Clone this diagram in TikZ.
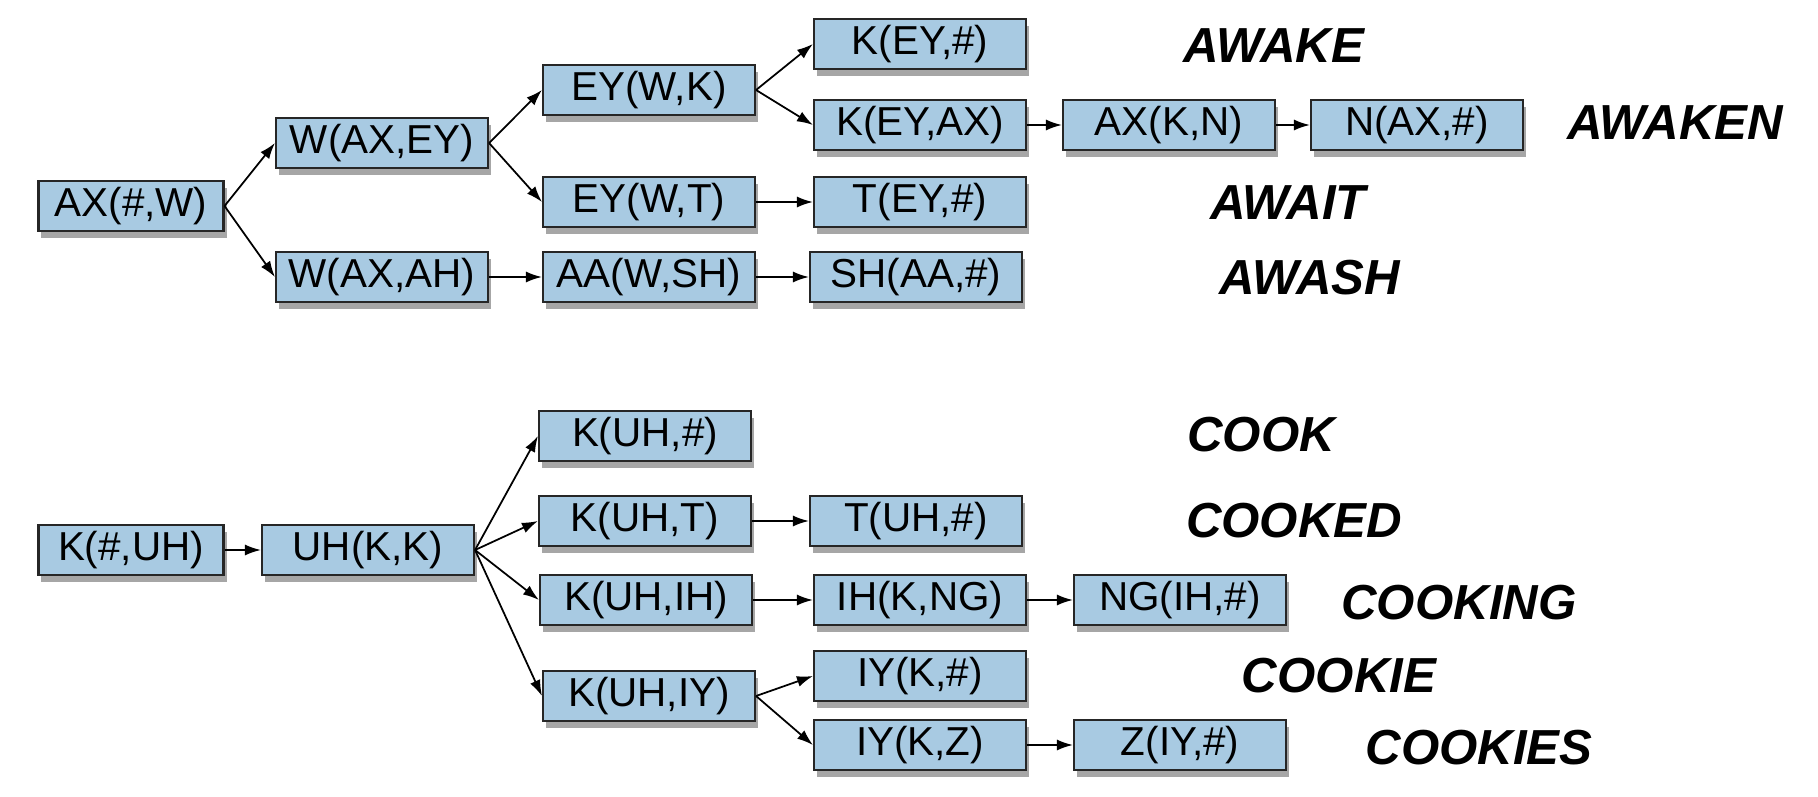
\documentclass[tikz,border=0pt]{standalone}
\usepackage{fontspec}
\setmainfont{Liberation Sans}
\usepackage{xcolor}
\usepackage{tikz}
\usetikzlibrary{arrows.meta, shadows}
\definecolor{boxblue}{RGB}{168,202,226}

\begin{document}
\begin{tikzpicture}[
    phone/.style={rectangle, draw=black!85, line width=0.6pt, fill=boxblue, minimum width=2.12cm, minimum height=0.5cm, inner sep=1pt, align=center, font=\fontsize{11.5}{13}\selectfont,
        drop shadow={shadow xshift=0.3mm, shadow yshift=-0.7mm, opacity=0.35, fill=black}},
    short/.style={phone, minimum width=1.85cm},
    word/.style={font=\fontsize{14}{16}\selectfont\bfseries\itshape},
    arrow/.style={-{Latex[length=1.6mm, width=1.1mm]}, line width=0.5pt}
]
    \useasboundingbox (0,0) rectangle (18.18,7.96);

    % AWAKE tree
    \node[short] (axhw) at (1.31, 5.90) {AX(\#,W)};
    \node[phone] (waxey) at (3.82, 6.53) {W(AX,EY)};
    \node[phone] (waxah) at (3.82, 5.19) {W(AX,AH)};
    \node[phone] (eywk) at (6.49, 7.06) {EY(W,K)};
    \node[phone] (eywt) at (6.49, 5.94) {EY(W,T)};
    \node[phone] (aawsh) at (6.49, 5.19) {AA(W,SH)};
    \node[phone] (keyh) at (9.20, 7.52) {K(EY,\#)};
    \node[phone] (keyax) at (9.20, 6.71) {K(EY,AX)};
    \node[phone] (teyh) at (9.20, 5.94) {T(EY,\#)};
    \node[phone] (shaah) at (9.16, 5.19) {SH(AA,\#)};
    \node[phone] (axkn) at (11.69, 6.71) {AX(K,N)};
    \node[phone] (naxh) at (14.17, 6.71) {N(AX,\#)};

    % AWAKE words
    \node[word] (awake) at (12.74, 7.50) {AWAKE};
    \node[word] (awaken) at (16.75, 6.73) {AWAKEN};
    \node[word] (await) at (12.88, 5.93) {AWAIT};
    \node[word] (awash) at (13.10, 5.18) {AWASH};

    % COOK tree
    \node[short] (khuh) at (1.31, 2.46) {K(\#,UH)};
    \node[phone] (uhkk) at (3.68, 2.46) {UH(K,K)};
    \node[phone] (kuhh) at (6.45, 3.60) {K(UH,\#)};
    \node[phone] (kuht) at (6.45, 2.75) {K(UH,T)};
    \node[phone] (kuhih) at (6.46, 1.96) {K(UH,IH)};
    \node[phone] (kuhiy) at (6.49, 1.00) {K(UH,IY)};
    \node[phone] (tuhh) at (9.16, 2.75) {T(UH,\#)};
    \node[phone] (ihkng) at (9.20, 1.96) {IH(K,NG)};
    \node[phone] (ngihh) at (11.80, 1.96) {NG(IH,\#)};
    \node[phone] (iykh) at (9.20, 1.20) {IY(K,\#)};
    \node[phone] (iykz) at (9.20, 0.51) {IY(K,Z)};
    \node[phone] (ziyh) at (11.80, 0.51) {Z(IY,\#)};

    % COOK words
    \node[word] (cook) at (12.61, 3.61) {COOK};
    \node[word] (cooked) at (12.94, 2.75) {COOKED};
    \node[word] (cooking) at (14.59, 1.93) {COOKING};
    \node[word] (cookie) at (13.39, 1.20) {COOKIE};
    \node[word] (cookies) at (14.79, 0.48) {COOKIES};

    % Arrows
    \draw[arrow] (axhw.east) -- (waxey.west);
    \draw[arrow] (axhw.east) -- (waxah.west);
    \draw[arrow] (waxey.east) -- (eywk.west);
    \draw[arrow] (waxey.east) -- (eywt.west);
    \draw[arrow] (eywk.east) -- (keyh.west);
    \draw[arrow] (eywk.east) -- (keyax.west);
    \draw[arrow] (keyax) -- (axkn);
    \draw[arrow] (axkn) -- (naxh);
    \draw[arrow] (eywt) -- (teyh);
    \draw[arrow] (waxah) -- (aawsh);
    \draw[arrow] (aawsh) -- (shaah);

    \draw[arrow] (khuh) -- (uhkk);
    \draw[arrow] (uhkk.east) -- (kuhh.west);
    \draw[arrow] (uhkk.east) -- (kuht.west);
    \draw[arrow] (uhkk.east) -- (kuhih.west);
    \draw[arrow] (uhkk.east) -- (kuhiy.west);
    \draw[arrow] (kuht) -- (tuhh);
    \draw[arrow] (kuhih) -- (ihkng);
    \draw[arrow] (ihkng) -- (ngihh);
    \draw[arrow] (kuhiy.east) -- (iykh.west);
    \draw[arrow] (kuhiy.east) -- (iykz.west);
    \draw[arrow] (iykz) -- (ziyh);
\end{tikzpicture}
\end{document}
